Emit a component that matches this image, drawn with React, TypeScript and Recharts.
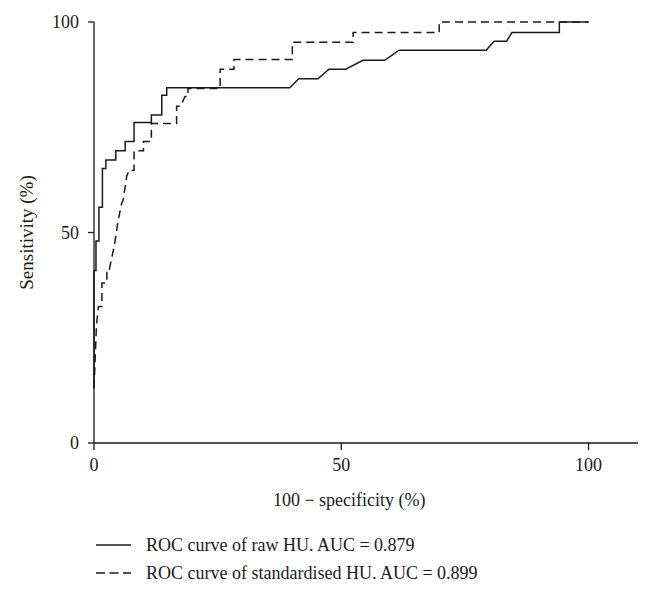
import { LineChart, Line, XAxis, YAxis, Label } from "recharts";

// ROC points: x = 100 - specificity (%), y = sensitivity (%)
const rawX = [0, 0, 0.4, 0.4, 1, 1, 1.7, 1.7, 2.4, 2.4, 4.4, 4.4, 6.3, 6.3, 8.1, 8.1, 11.6, 11.6, 13.7, 13.7, 14.7, 14.7, 39.6, 41.4, 45.3, 47.5, 50.9, 54.4, 58.8, 61.7, 79.3, 80.9, 83.4, 84.5, 94.1, 94.1, 100];
const rawY = [13, 41, 41, 48, 48, 56, 56, 65.2, 65.2, 67.2, 67.2, 69.4, 69.4, 71.6, 71.6, 76.1, 76.1, 77.9, 77.9, 82.6, 82.6, 84.4, 84.4, 86.5, 86.5, 88.8, 88.8, 90.9, 90.9, 93.3, 93.3, 95.4, 95.4, 97.5, 97.5, 100, 100];

const stdX = [0, 0.5, 0.9, 1.6, 1.6, 2.6, 2.6, 3.1, 3.6, 4.2, 4.8, 5.6, 5.9, 6.6, 7.1, 8.1, 8.1, 10, 10, 11.6, 11.6, 16.7, 16.7, 17.5, 18.4, 19, 19, 25.5, 25.5, 28.3, 28.3, 40.1, 40.1, 52.4, 52.4, 69.8, 69.8, 100];
const stdY = [13, 28, 32.4, 32.4, 38, 38, 41.3, 41.3, 44, 47.5, 52.3, 57, 57.7, 63.3, 64.8, 64.8, 69.4, 69.4, 71.6, 71.6, 75.9, 75.9, 80, 80, 82.3, 82.3, 84.2, 84.2, 88.8, 88.8, 91.1, 91.1, 95.2, 95.2, 97.5, 97.5, 100, 100];

const xTicks = [0, 50, 100];
const yTicks = [0, 50, 100];

const legendItems = [
  { name: "ROC curve of raw HU. AUC = 0.879", dash: undefined },
  { name: "ROC curve of standardised HU. AUC = 0.899", dash: "9 4.5" },
];

const rawData = rawX.map((x, i) => ({ x, y: rawY[i] }));
const stdData = stdX.map((x, i) => ({ x, y: stdY[i] }));

const font = "'Liberation Serif', 'DejaVu Serif', serif";
const ink = "#1a1a1a";

export default function App() {
  return (
    <div style={{ position: "absolute", left: 0, top: 0, width: 652, height: 592, background: "#fff", fontFamily: font }}>
      <LineChart width={652} height={592} margin={{ top: 22, right: 14, bottom: 0, left: 0 }}>
        <XAxis
          type="number"
          dataKey="x"
          domain={[0, 110]}
          ticks={xTicks}
          height={149}
          tickSize={7}
          tickMargin={8}
          stroke={ink}
          strokeWidth={1.3}
          tick={{ fill: ink, fontSize: 18, fontFamily: font }}
        >
          <Label
            content={({ viewBox }: any) => (
              <text
                x={viewBox.x + (viewBox.width * 50) / 110 + 8}
                y={viewBox.y + 63}
                textAnchor="middle"
                fill={ink}
                fontSize={18}
                fontFamily={font}
              >
                100 − specificity (%)
              </text>
            )}
          />
        </XAxis>
        <YAxis
          type="number"
          dataKey="y"
          domain={[0, 100]}
          ticks={yTicks}
          width={94}
          tickSize={6}
          tickMargin={9}
          stroke={ink}
          strokeWidth={1.3}
          tick={{ fill: ink, fontSize: 18, fontFamily: font }}
        >
          <Label
            content={({ viewBox }: any) => (
              <text
                x={viewBox.x + 33}
                y={viewBox.y + viewBox.height / 2}
                transform={`rotate(-90 ${viewBox.x + 33} ${viewBox.y + viewBox.height / 2})`}
                textAnchor="middle"
                fill={ink}
                fontSize={19}
                fontFamily={font}
              >
                Sensitivity (%)
              </text>
            )}
          />
        </YAxis>
        <Line data={rawData} dataKey="y" type="linear" stroke={ink} strokeWidth={1.5} dot={false} isAnimationActive={false} />
        <Line data={stdData} dataKey="y" type="linear" stroke={ink} strokeWidth={1.5} strokeDasharray="8 5" dot={false} isAnimationActive={false} />
      </LineChart>
      <div style={{ position: "absolute", left: 96, top: 531 }}>
        {legendItems.map((item) => (
          <div key={item.name} style={{ display: "flex", alignItems: "center", height: 28, fontSize: 18, color: ink }}>
            <svg width={35} height={10} style={{ marginRight: 15 }}>
              <line x1={0} y1={5} x2={35} y2={5} stroke={ink} strokeWidth={1.3} strokeDasharray={item.dash} />
            </svg>
            <span>{item.name}</span>
          </div>
        ))}
      </div>
    </div>
  );
}
